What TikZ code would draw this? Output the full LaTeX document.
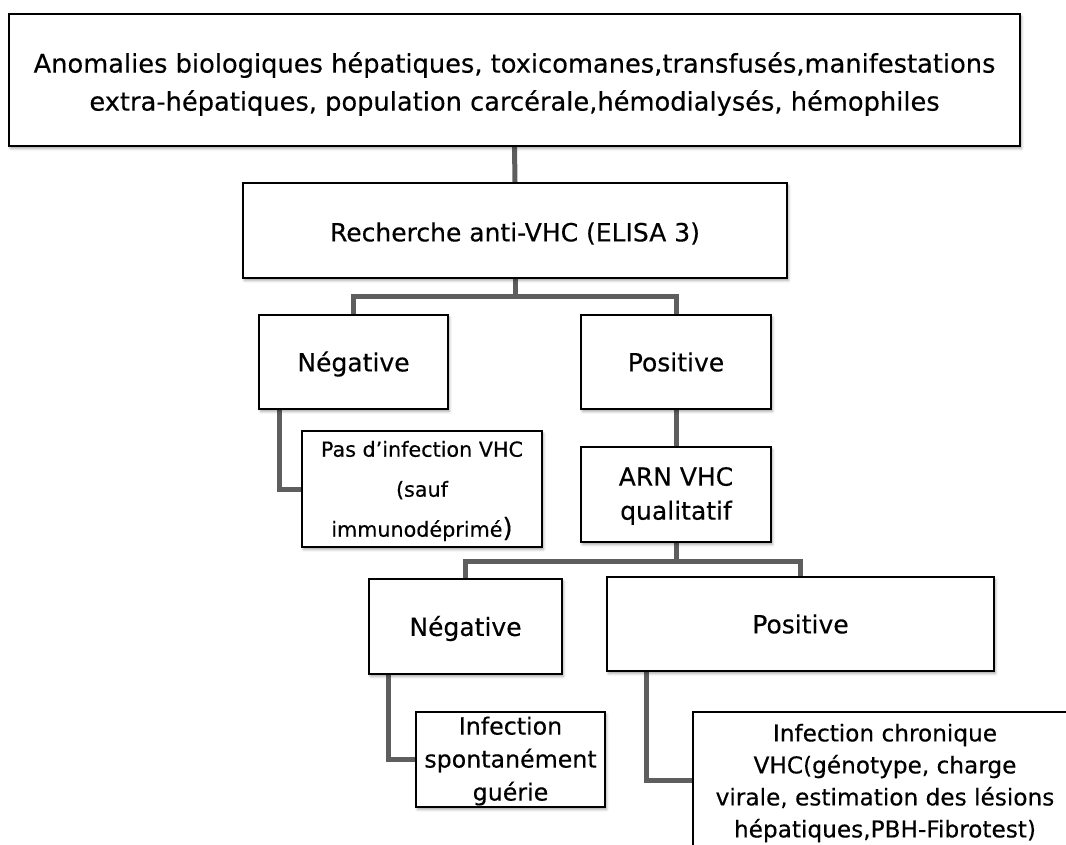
\documentclass[tikz,border=0pt]{standalone}
\usepackage{fontspec}
\setmainfont{DejaVu Sans}[FakeBold=0.35]
\usetikzlibrary{shadows.blur,backgrounds}

\tikzset{
  box/.style={draw=black, line width=2pt, fill=white, inner sep=0pt,
    blur shadow={shadow xshift=1.5pt, shadow yshift=-2.5pt, shadow blur radius=2.5pt, shadow opacity=35}},
  txt/.style={inner sep=0pt, align=center},
  conn/.style={draw=black!63, line width=5pt},
  big/.style={font=\fontsize{25}{34}\selectfont},
}

\begin{document}
\begin{tikzpicture}[x=1pt, y=-1pt]
\useasboundingbox (0,0) rectangle (1066,844);
\clip (0,0) rectangle (1066,844);

% boxes
\node[box, minimum width=1011pt, minimum height=132pt] (top) at (514.5,80) {};
\node[box, minimum width=544pt, minimum height=95pt] (rech) at (515,230.5) {};
\node[box, minimum width=189pt, minimum height=94pt] (neg1) at (353.5,362) {};
\node[box, minimum width=190pt, minimum height=94pt] (pos1) at (676,362) {};
\node[box, minimum width=240pt, minimum height=116pt] (pas) at (422,489) {};
\node[box, minimum width=190pt, minimum height=95pt] (arn) at (676,494.5) {};
\node[box, minimum width=193pt, minimum height=95pt] (neg2) at (465.5,626.5) {};
\node[box, minimum width=387pt, minimum height=94pt] (pos2) at (800.5,624) {};
\node[box, minimum width=189pt, minimum height=95pt] (inf) at (510.5,759.5) {};
\node[box, minimum width=384pt, minimum height=136pt] (chron) at (885,780) {};

% box texts
\node[txt, font=\fontsize{25.7}{38}\selectfont, yshift=-4pt] (top-t) at (top)
  {Anomalies biologiques hépatiques, toxicomanes,transfusés,manifestations\\
   extra-hépatiques, population carcérale,hémodialysés, hémophiles};
\node[txt, big, yshift=-3pt] (rech-t) at (rech) {Recherche anti-VHC (ELISA 3)};
\node[txt, big, yshift=-2pt] (neg1-t) at (neg1) {Négative};
\node[txt, big] (pos1-t) at (pos1) {Positive};
\node[txt, font=\fontsize{20.7}{40}\selectfont, yshift=-2pt] (pas-t) at (pas)
  {Pas d’infection VHC\\(sauf\\immunodéprimé{\fontsize{26}{26}\selectfont )}};
\node[txt, big, yshift=-1.5pt] (arn-t) at (arn) {ARN VHC\\qualitatif};
\node[txt, big, yshift=-2pt] (neg2-t) at (neg2) {Négative};
\node[txt, big] (pos2-t) at (pos2) {Positive};
\node[txt, font=\fontsize{23.7}{33}\selectfont, yshift=-1.5pt] (inf-t) at (inf) {Infection\\spontanément\\guérie};
\node[txt, font=\fontsize{23.2}{32}\selectfont, yshift=-3pt] (chron-t) at (chron)
  {Infection chronique\\VHC(génotype, charge\\virale, estimation des lésions\\hépatiques,PBH-Fibrotest)};

% connectors, kept behind the boxes
\begin{pgfonlayer}{background}
  \coordinate (j1) at (rech.south |- 0,296);
  \coordinate (j2) at (arn.south |- 0,561);
  \draw[conn] (top.south) -- (rech.north);
  \draw[conn] (rech.south) -- (j1);
  \draw[conn] (neg1.north) |- (j1) -| (pos1.north);
  \draw[conn] ([xshift=21pt]neg1.south west) |- (pas.west);
  \draw[conn] (pos1.south) -- (arn.north);
  \draw[conn] (arn.south) -- (j2);
  \draw[conn] (neg2.north) |- (j2) -| (pos2.north);
  \draw[conn] ([xshift=20pt]neg2.south west) |- (inf.west);
  \draw[conn] ([xshift=40pt]pos2.south west) |- (chron.west);
\end{pgfonlayer}
\end{tikzpicture}
\end{document}
